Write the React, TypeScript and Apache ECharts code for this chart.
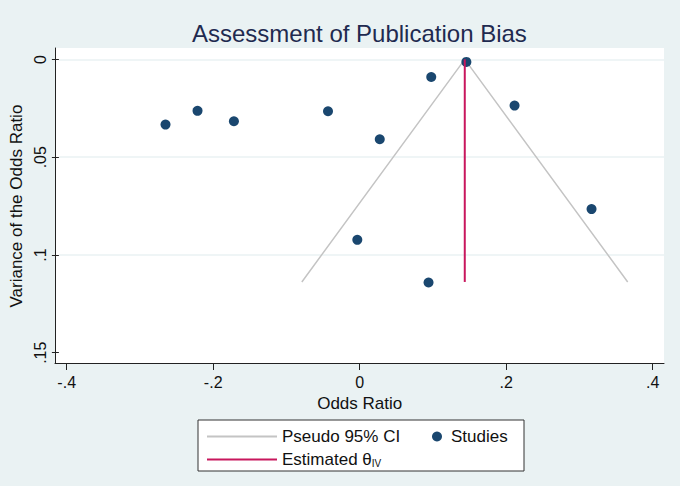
import React, { useEffect, useRef } from "react";
import * as echarts from "echarts";

// Study estimates (odds ratio) and their variance
const studyOR = [-0.2684, -0.2245, -0.1746, -0.0455, 0.0255, 0.0961, 0.1443, 0.2104, -0.0053, 0.0924, 0.316];
const studyVar = [0.0333, 0.0263, 0.0316, 0.0265, 0.0408, 0.009, 0.0013, 0.0236, 0.0922, 0.114, 0.0765];

// Pseudo 95% CI funnel and estimated effect
const ciOR = [-0.0814, 0.1421, 0.3656];
const ciVar = [0.1137, 0, 0.1137];
const thetaOR = [0.1421, 0.1421];
const thetaVar = [0, 0.1137];

// Axis ticks
const xTicks = [-0.4, -0.2, 0, 0.2, 0.4];
const xTickLabels = ["-.4", "-.2", "0", ".2", ".4"];
const yTicks = [0, 0.05, 0.1, 0.15];
const yTickLabels = ["0", ".05", ".1", ".15"];

const FONT = "'Liberation Sans', Arial, sans-serif";

function lookup(v: number, ticks: number[], labels: string[]) {
  for (let i = 0; i < ticks.length; i++) {
    if (Math.abs(ticks[i] - v) < 1e-9) return labels[i];
  }
  return "";
}

export default function App() {
  const ref = useRef<HTMLDivElement>(null);
  useEffect(() => {
    if (!ref.current) return;
    const chart = echarts.init(ref.current, undefined, { renderer: "svg" });
    const zip = (a: number[], b: number[]) => a.map((v, i) => [v, b[i]]);
    chart.setOption({
      animation: false,
      backgroundColor: "#EAF2F3",
      textStyle: { fontFamily: FONT },
      title: {
        text: "Assessment of Publication Bias",
        left: 187,
        top: 16,
        textStyle: { fontFamily: FONT, fontSize: 24, fontWeight: "normal", color: "#1F2A50" },
      },
      graphic: [
        {
          type: "rect",
          shape: { x: 198, y: 420, width: 326, height: 51 },
          style: { fill: "#ffffff", stroke: "#333333", lineWidth: 1 },
          z: 0,
        },
      ],
      legend: [
        {
          data: [
            { name: "Pseudo 95% CI", icon: "rect" },
            { name: "Estimated θIV", icon: "rect" },
          ],
          orient: "vertical",
          left: 202,
          top: 423,
          itemWidth: 70,
          itemHeight: 2,
          itemGap: 6,
          formatter: (n: string) => (n === "Estimated θIV" ? "Estimated θ{sub|IV}" : n),
          textStyle: {
            fontFamily: FONT,
            fontSize: 17,
            color: "#111",
            rich: { sub: { fontFamily: FONT, fontSize: 10, verticalAlign: "bottom", padding: [8, 0, 0, 0], color: "#111" } },
          },
        },
        {
          data: ["Studies"],
          left: 427,
          top: 423,
          itemWidth: 18,
          itemHeight: 10,
          icon: "circle",
          textStyle: { fontFamily: FONT, fontSize: 17, color: "#111" },
        },
      ],
      grid: [
        { left: 55, right: 16, top: 48, bottom: 123, show: true, backgroundColor: "#ffffff", borderWidth: 0 },
        { left: 66.7, right: 27.3, top: 48, bottom: 123 },
        { left: 55, right: 16, top: 59.5, bottom: 133.3 },
      ],
      xAxis: [
        {
          gridIndex: 0,
          type: "value",
          min: -0.42,
          max: 0.4154,
          z: 1,
          axisLine: { show: true, onZero: false, lineStyle: { color: "#222", width: 1 } },
          axisTick: { show: false },
          axisLabel: { show: false },
          splitLine: { show: false },
        },
        {
          gridIndex: 1,
          type: "value",
          min: xTicks[0],
          max: xTicks[xTicks.length - 1],
          interval: 0.2,
          z: 1,
          name: "Odds Ratio",
          nameLocation: "middle",
          nameGap: 32,
          nameTextStyle: { fontFamily: FONT, fontSize: 17, color: "#111" },
          axisLine: { show: false, onZero: false },
          axisTick: { show: true, length: 7, lineStyle: { color: "#222" } },
          axisLabel: {
            margin: 11,
            fontFamily: FONT,
            fontSize: 16,
            color: "#111",
            formatter: (v: number) => lookup(v, xTicks, xTickLabels),
          },
          splitLine: { show: false },
        },
        { gridIndex: 2, type: "value", min: 0, max: 1, show: false },
      ],
      yAxis: [
        {
          gridIndex: 0,
          type: "value",
          min: -0.0058,
          max: 0.1551,
          inverse: true,
          z: 1,
          axisLine: { show: true, onZero: false, lineStyle: { color: "#222", width: 1 } },
          axisTick: { show: false },
          axisLabel: { show: false },
          splitLine: { show: false },
        },
        {
          gridIndex: 2,
          type: "value",
          min: yTicks[0],
          max: yTicks[yTicks.length - 1],
          interval: 0.05,
          inverse: true,
          z: 1,
          name: "Variance of the Odds Ratio",
          nameLocation: "middle",
          nameGap: 30,
          nameTextStyle: { fontFamily: FONT, fontSize: 17, color: "#111" },
          axisLine: { show: false, onZero: false },
          axisTick: { show: true, length: 7, lineStyle: { color: "#222" } },
          axisLabel: {
            rotate: 90,
            margin: 10,
            fontFamily: FONT,
            fontSize: 16,
            color: "#111",
            formatter: (v: number) => lookup(v, yTicks, yTickLabels),
          },
          splitLine: { show: true, showMaxLine: false, lineStyle: { color: "#EAF2F3", width: 1.5 } },
        },
        { gridIndex: 1, type: "value", min: 0, max: 1, show: false },
      ],
      series: [
        {
          name: "Pseudo 95% CI",
          type: "line",
          xAxisIndex: 0,
          yAxisIndex: 0,
          data: zip(ciOR, ciVar),
          symbol: "none",
          z: 2,
          lineStyle: { color: "#C4C4C4", width: 1.5 },
          itemStyle: { color: "#C4C4C4" },
        },
        {
          name: "Studies",
          type: "scatter",
          xAxisIndex: 0,
          yAxisIndex: 0,
          data: zip(studyOR, studyVar),
          symbolSize: 10,
          z: 3,
          itemStyle: { color: "#1A476F", opacity: 1 },
        },
        {
          name: "Estimated θIV",
          type: "line",
          xAxisIndex: 0,
          yAxisIndex: 0,
          data: zip(thetaOR, thetaVar),
          symbol: "none",
          z: 4,
          lineStyle: { color: "#C8175D", width: 2 },
          itemStyle: { color: "#C8175D" },
        },
      ],
    });
    return () => chart.dispose();
  }, []);
  return (
    <div
      ref={ref}
      style={{ position: "fixed", left: 0, top: 0, width: 680, height: 486 }}
    />
  );
}
